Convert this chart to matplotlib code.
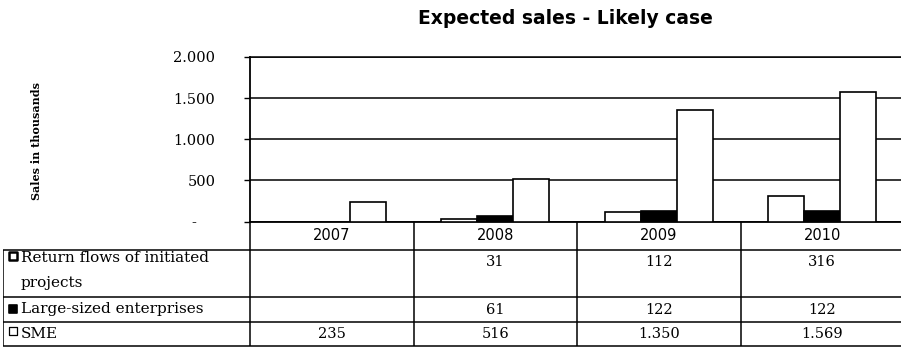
import matplotlib.pyplot as plt

# Expected sales (thousands) per year and customer segment
years = ['2007', '2008', '2009', '2010']
return_flows = [None, 31, 112, 316]
large_enterprises = [None, 61, 122, 122]
sme = [235, 516, 1350, 1569]
series_names = ['Return flows of initiated\nprojects', 'Large-sized enterprises', 'SME']
y_ticks = [0, 500, 1000, 1500, 2000]
y_tick_labels = ['-    ', '500', '1.000', '1.500', '2.000']

W, H = 901, 348
fig = plt.figure(figsize=(W / 100, H / 100), dpi=100)

# chart area in pixels: left edge 250, one year column = 163.5 px
col_px = 163.5
x0, y_top, y_bot = 250, 57, 221.5
ax = fig.add_axes([x0 / W, (H - y_bot) / H, 4 * col_px / W, (y_bot - y_top) / H])
ax.set_xlim(-0.5, 3.5)
ax.set_ylim(0, 2000)

series = [return_flows, large_enterprises, sme]
fills = ['white', 'black', 'white']
width = 0.22
offsets = [-width, 0, width]

for vals, fc, off in zip(series, fills, offsets):
    xs = [i + off for i, v in enumerate(vals) if v is not None]
    hs = [v for v in vals if v is not None]
    ax.bar(xs, hs, width=width, color=fc, edgecolor='black', linewidth=1.2, zorder=3)

ax.set_yticks(y_ticks)
ax.set_yticklabels(y_tick_labels, family='DejaVu Serif', fontsize=10.5)
ax.set_xticks([])
ax.tick_params(axis='y', length=4, width=1, pad=21)
ax.yaxis.grid(True, color='black', linewidth=1.1)
ax.set_axisbelow(True)
for s in ['top', 'right']:
    ax.spines[s].set_visible(False)
for s in ['left', 'bottom']:
    ax.spines[s].set_linewidth(1.3)
ax.axhline(2000, color='black', linewidth=1.1, clip_on=False)

fig.text(565 / W, 1 - 18 / H, 'Expected sales - Likely case', ha='center', va='center',
         fontsize=13.5, fontweight='bold', family='DejaVu Sans')
fig.text(37 / W, 1 - 141 / H, 'Sales in thousands', rotation=90, ha='center', va='center',
         fontsize=8, fontweight='bold', family='DejaVu Serif')

# data table under the chart, same column scale as the bars
t_left = 3
tax = fig.add_axes([t_left / W, 0, (x0 + 4 * col_px - t_left) / W, 1])
L = -0.5 - (x0 - t_left) / col_px
tax.set_xlim(L, 3.5)
tax.set_ylim(H, 0)
tax.axis('off')

rows = [250, 297, 322, 346]
for y in rows:
    tax.hlines(y, L, 3.5, color='black', linewidth=1.1)
for xb in [-0.5, 0.5, 1.5, 2.5]:
    tax.vlines(xb, y_bot, rows[-1], color='black', linewidth=1.1)
tax.vlines(L, rows[0], rows[-1], color='black', linewidth=1.1)

for i, yr in enumerate(years):
    tax.text(i, 235, yr, ha='center', va='center', fontsize=10.5, family='DejaVu Sans')

value_y = [262, 309.5, 334]
label_y = [258, 309.5, 334]
marker_y = [256, 309, 331]
marker_lw = [1.8, 1.2, 0.9]
marker_x = L + 10 / col_px
label_x = L + 18 / col_px
for k, (vals, name, fc) in enumerate(zip(series, series_names, fills)):
    tax.scatter([marker_x], [marker_y[k]], marker='s', s=30,
                facecolor=fc, edgecolor='black', linewidth=marker_lw[k])
    lines = name.split('\n')
    for j, line in enumerate(lines):
        tax.text(label_x, label_y[k] + 25 * j, line, ha='left', va='center',
                 fontsize=11, family='DejaVu Serif')
    for i, v in enumerate(vals):
        if v is not None:
            tax.text(i, value_y[k], f'{v:,}'.replace(',', '.'), ha='center', va='center',
                     fontsize=10.5, family='DejaVu Serif')

fig.savefig('out.png', dpi=100)
